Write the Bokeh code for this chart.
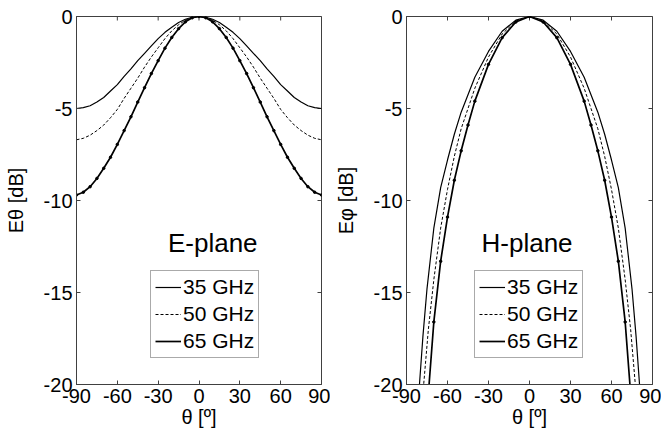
import math
from bokeh.plotting import figure
from bokeh.models import Range1d, FixedTicker, Label, Legend, LegendItem
from bokeh.layouts import row
from bokeh.embed import file_html
from bokeh.resources import INLINE

# ---------------- data ----------------
freq_labels = ["35 GHz", "50 GHz", "65 GHz"]
x_ticks = [-90, -60, -30, 0, 30, 60, 90]
x_tick_labels = ["-90", "-60", "-30", "0", "30", "60", "90"]
y_ticks = [-20, -15, -10, -5, 0]
y_tick_labels = ["-20", "-15", "-10", "-5", "0"]

# E-plane, one half (theta >= 0), pattern is symmetric
e_theta = [0, 5, 10, 15, 20, 25, 30, 35, 40, 45, 50, 55, 60, 65, 70, 75, 80, 85, 90]
e_35 = [0, -0.04, -0.15, -0.33, -0.58, -0.86, -1.2, -1.6, -2.0, -2.4, -2.85, -3.25,
        -3.7, -4.05, -4.4, -4.65, -4.85, -4.95, -5.0]
e_50 = [0, -0.05, -0.2, -0.45, -0.78, -1.2, -1.7, -2.2, -2.75, -3.35, -3.9, -4.45,
        -5.05, -5.5, -5.9, -6.2, -6.45, -6.62, -6.7]
e_65 = [0, -0.07, -0.29, -0.66, -1.14, -1.72, -2.4, -3.1, -3.87, -4.65, -5.45, -6.2,
        -6.95, -7.65, -8.25, -8.8, -9.25, -9.55, -9.7]

# H-plane, one half (theta >= 0)
h_theta_35 = [0, 10, 20, 30, 40, 50, 55, 60, 65, 70, 75, 78, 81]
h_35 = [0, -0.2, -0.8, -1.9, -3.3, -5.2, -6.4, -7.8, -9.3, -11.5, -14.8, -17.4, -20.5]
h_theta_50 = [0, 10, 20, 30, 40, 45, 50, 55, 60, 65, 70, 74, 78]
h_50 = [0, -0.25, -0.95, -2.2, -3.9, -5.0, -6.1, -7.6, -9.4, -11.5, -14.3, -17.0, -20.5]
h_theta_65 = [0, 10, 20, 30, 40, 45, 50, 55, 60, 65, 70, 74]
h_65 = [0, -0.3, -1.15, -2.6, -4.6, -5.9, -7.3, -8.9, -10.9, -13.3, -16.6, -20.5]


def mirror(th, v):
    return [-t for t in th[:0:-1]] + list(th), list(v[:0:-1]) + list(v)


FONT = "Liberation Sans"
FRAME = "#404040"


def make_fig(width, ylabel):
    p = figure(width=width, height=434, x_range=Range1d(-90, 90), y_range=Range1d(-20, 0),
               output_backend="svg", toolbar_location=None,
               min_border_left=76, min_border_right=9, min_border_top=16, min_border_bottom=50)
    p.grid.visible = False
    p.outline_line_color = FRAME
    p.outline_line_width = 1
    p.background_fill_color = "white"
    p.border_fill_color = "white"
    p.xaxis.ticker = FixedTicker(ticks=x_ticks)
    p.yaxis.ticker = FixedTicker(ticks=y_ticks)
    p.xaxis.major_label_overrides = dict(zip(x_ticks, x_tick_labels))
    p.yaxis.major_label_overrides = dict(zip(y_ticks, y_tick_labels))
    for ax in p.xaxis + p.yaxis:
        ax.major_tick_in = 4
        ax.major_tick_out = 0
        ax.minor_tick_line_color = None
        ax.axis_line_color = FRAME
        ax.major_tick_line_color = FRAME
        ax.major_label_text_font = FONT
        ax.major_label_text_font_size = "20px"
        ax.major_label_text_color = "black"
        ax.major_label_standoff = 4
        ax.axis_label_text_font = FONT
        ax.axis_label_text_font_size = "20px"
        ax.axis_label_text_font_style = "normal"
        ax.axis_label_text_color = "black"
    p.xaxis.axis_label = "θ [º]"
    p.xaxis.axis_label_standoff = 0
    p.yaxis.axis_label = ylabel
    p.yaxis.axis_label_standoff = 14
    # tick marks on the top and right frame edges (half of each dash is clipped away)
    p.scatter(x_ticks, [0] * len(x_ticks), marker="dash", angle=math.pi / 2, size=8,
              line_color=FRAME, line_width=1)
    p.scatter([90] * len(y_ticks), y_ticks, marker="dash", size=8,
              line_color=FRAME, line_width=1)
    return p


def add_curves(p, d35, d50, d65, lx, ly, title, tx):
    x, y = mirror(*d35)
    r1 = p.line(x, y, line_color="black", line_width=1.2)
    x, y = mirror(*d50)
    r2 = p.line(x, y, line_color="black", line_width=1, line_dash="3 2")
    x, y = mirror(*d65)
    r3 = p.line(x, y, line_color="black", line_width=1.7)
    p.scatter(x, y, size=2.5, marker="circle", color="black")
    legend = Legend(items=[LegendItem(label=freq_labels[0], renderers=[r1]),
                           LegendItem(label=freq_labels[1], renderers=[r2]),
                           LegendItem(label=freq_labels[2], renderers=[r3])],
                    location=(lx, ly), margin=0, padding=4, spacing=3,
                    glyph_width=26, glyph_height=22, label_height=22, label_standoff=2,
                    label_text_font=FONT, label_text_font_size="21px",
                    label_text_color="black",
                    border_line_color="#555555", border_line_width=1,
                    background_fill_color="white", background_fill_alpha=1)
    p.add_layout(legend)
    p.add_layout(Label(x=tx, y=-12.3, text=title, text_font=FONT, text_font_size="26px",
                       text_baseline="middle", text_color="black"))


pe = make_fig(330, "Eθ [dB]")
add_curves(pe, (e_theta, e_35), (e_theta, e_50), (e_theta, e_65), 74, 26, "E-plane", -22.8)
ph = make_fig(331, "Eφ [dB]")
add_curves(ph, (h_theta_35, h_35), (h_theta_50, h_50), (h_theta_65, h_65), 68, 26, "H-plane", -35.1)

layout = row(pe, ph)
open("out.html", "w").write(file_html(layout, INLINE))
